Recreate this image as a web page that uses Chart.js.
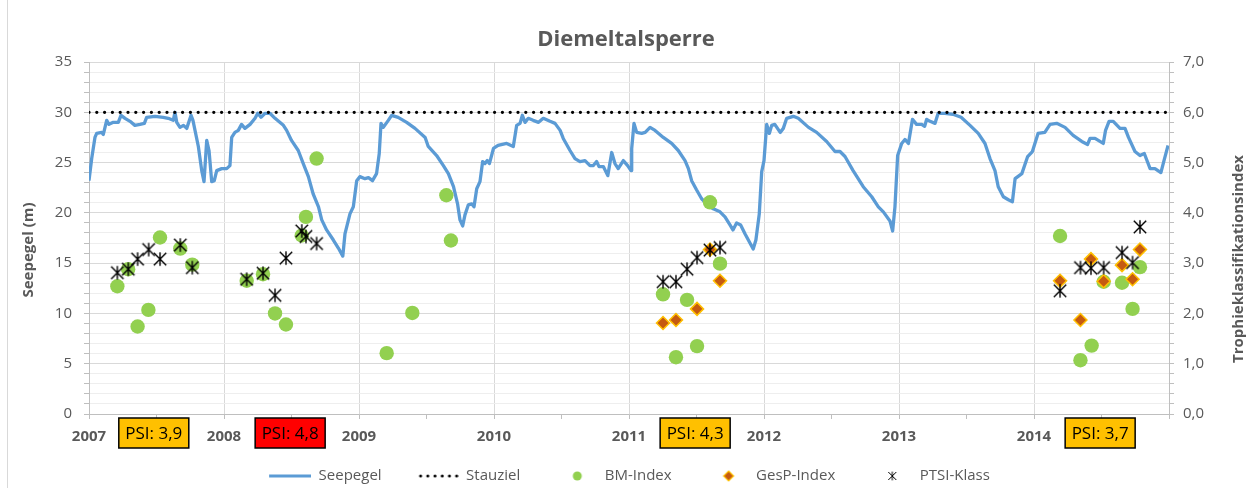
<!DOCTYPE html>
<html><head><meta charset="utf-8">
<script src="https://cdn.jsdelivr.net/npm/chart.js@4.4.1/dist/chart.umd.min.js"></script>
<style>html,body{margin:0;padding:0;background:#fff;}#wrap{position:relative;width:1252px;height:488px;}</style>
</head><body><div id="wrap"><canvas id="c" width="1252" height="488"></canvas></div>
<script>
// ---- data (x values are decimal years) ----
const seepegelDates = [2007.00,2007.02,2007.044,2007.057,2007.094,2007.106,2007.131,2007.148,2007.18,2007.217,2007.237,2007.267,2007.304,2007.34,2007.378,2007.41,2007.427,2007.489,2007.55,2007.587,2007.624,2007.637,2007.65,2007.674,2007.70,2007.724,2007.756,2007.77,2007.81,2007.835,2007.852,2007.872,2007.889,2007.909,2007.928,2007.946,2007.983,2008.02,2008.044,2008.057,2008.081,2008.106,2008.13,2008.155,2008.193,2008.23,2008.25,2008.274,2008.304,2008.34,2008.378,2008.44,2008.464,2008.50,2008.55,2008.59,2008.625,2008.66,2008.70,2008.724,2008.76,2008.81,2008.847,2008.88,2008.896,2008.933,2008.958,2008.983,2009.007,2009.044,2009.07,2009.10,2009.13,2009.15,2009.163,2009.18,2009.217,2009.242,2009.29,2009.353,2009.415,2009.49,2009.513,2009.575,2009.625,2009.662,2009.70,2009.73,2009.748,2009.768,2009.785,2009.81,2009.835,2009.852,2009.872,2009.896,2009.916,2009.933,2009.95,2009.966,2009.996,2010.03,2010.094,2010.143,2010.168,2010.193,2010.21,2010.23,2010.254,2010.29,2010.33,2010.365,2010.415,2010.452,2010.49,2010.513,2010.563,2010.60,2010.637,2010.674,2010.711,2010.736,2010.76,2010.778,2010.81,2010.843,2010.872,2010.896,2010.92,2010.958,2010.99,2011.015,2011.02,2011.037,2011.057,2011.094,2011.12,2011.156,2011.193,2011.254,2011.316,2011.365,2011.415,2011.44,2011.464,2011.50,2011.538,2011.575,2011.624,2011.674,2011.711,2011.748,2011.77,2011.797,2011.827,2011.86,2011.896,2011.92,2011.94,2011.965,2011.983,2012.00,2012.02,2012.04,2012.057,2012.08,2012.12,2012.143,2012.168,2012.217,2012.254,2012.33,2012.39,2012.464,2012.526,2012.563,2012.60,2012.66,2012.735,2012.798,2012.847,2012.884,2012.933,2012.953,2012.97,2012.99,2013.02,2013.044,2013.07,2013.10,2013.13,2013.168,2013.19,2013.205,2013.23,2013.267,2013.29,2013.34,2013.40,2013.46,2013.526,2013.587,2013.637,2013.674,2013.711,2013.735,2013.773,2013.81,2013.84,2013.86,2013.91,2013.953,2013.988,2014.03,2014.08,2014.119,2014.168,2014.23,2014.29,2014.354,2014.397,2014.415,2014.452,2014.513,2014.53,2014.556,2014.587,2014.637,2014.674,2014.70,2014.748,2014.785,2014.817,2014.86,2014.896,2014.94,2014.963,2014.993];
const seepegelValues = [23.2,25.4,27.5,27.9,28.0,27.8,29.2,28.8,29.0,29.0,29.7,29.4,29.1,28.7,28.8,28.9,29.5,29.6,29.5,29.4,29.2,30.0,29.0,28.5,28.7,28.4,29.7,29.2,26.6,24.2,23.1,27.2,26.2,23.1,23.2,24.2,24.4,24.4,24.7,27.5,28.0,28.2,28.8,28.4,28.8,29.4,29.9,29.5,29.9,29.9,29.4,28.7,28.2,27.2,26.2,24.8,23.6,21.9,20.6,19.3,18.3,17.3,16.5,15.7,17.9,19.9,20.6,23.2,23.6,23.4,23.5,23.2,23.9,25.9,28.9,28.5,29.2,29.7,29.5,29.0,28.4,27.5,26.6,25.7,24.7,23.9,22.6,20.9,19.3,18.7,19.8,20.8,20.9,20.6,22.4,23.1,25.1,24.9,25.2,24.9,26.4,26.7,26.9,26.6,28.7,28.9,29.7,29.0,29.4,29.2,29.0,29.4,29.1,28.9,28.2,27.4,26.2,25.4,25.1,25.2,24.7,24.7,25.1,24.6,24.6,23.7,26.0,24.9,24.4,25.2,24.7,24.2,26.4,28.9,28.0,27.9,28.0,28.5,28.2,27.5,26.9,26.2,25.2,24.4,23.2,22.3,21.4,20.9,20.4,20.1,19.6,18.8,18.3,19.0,18.8,17.9,17.0,16.4,17.3,19.9,24.1,25.2,28.8,27.9,28.7,28.8,28.0,28.4,29.4,29.6,29.4,28.5,28.0,27.1,26.1,26.1,25.6,24.2,22.6,21.6,20.6,20.1,19.2,18.2,20.6,25.7,26.9,27.3,26.9,29.3,28.8,28.8,28.6,29.3,29.1,28.9,29.9,29.9,29.8,29.5,28.7,27.9,26.9,25.4,24.2,22.6,21.6,21.3,21.1,23.4,23.9,25.6,26.1,27.9,28.0,28.8,28.9,28.5,27.7,27.1,26.8,27.4,27.4,26.9,28.2,29.1,29.1,28.4,28.4,27.5,26.1,25.7,25.9,24.4,24.4,24.0,25.2,26.7];
const stauzielDates = [2007, 2015];
const stauzielValues = [30, 30];
const bmDates = [2007.21,2007.29,2007.36,2007.44,2007.526,2007.676,2007.765,2008.168,2008.289,2008.378,2008.459,2008.576,2008.607,2008.686,2009.205,2009.395,2009.647,2009.681,2011.252,2011.348,2011.43,2011.504,2011.60,2011.674,2014.193,2014.344,2014.427,2014.516,2014.652,2014.73,2014.785];
const bmValues = [2.54,2.88,1.74,2.07,3.51,3.29,2.97,2.65,2.78,2.00,1.78,3.55,3.92,5.08,1.21,2.01,4.35,3.45,2.38,1.13,2.27,1.35,4.21,2.99,3.54,1.07,1.36,2.63,2.61,2.09,2.92];
const gespDates = [2011.252,2011.348,2011.504,2011.60,2011.674,2014.193,2014.344,2014.422,2014.516,2014.652,2014.73,2014.785];
const gespValues = [1.81,1.87,2.09,3.27,2.65,2.65,1.87,3.08,2.64,2.96,2.68,3.27];
const ptsiDates = [2007.21,2007.291,2007.36,2007.442,2007.526,2007.676,2007.765,2008.168,2008.289,2008.378,2008.459,2008.576,2008.607,2008.686,2011.252,2011.348,2011.43,2011.504,2011.60,2011.674,2014.193,2014.344,2014.422,2014.516,2014.652,2014.73,2014.785];
const ptsiValues = [2.81,2.88,3.08,3.27,3.08,3.36,2.91,2.68,2.80,2.36,3.10,3.64,3.53,3.39,2.63,2.63,2.88,3.11,3.26,3.31,2.45,2.91,2.90,2.91,3.21,3.01,3.72];
const psiDates = [2007.48, 2008.49, 2011.49, 2014.49];
const psiLabels = ['PSI: 3,9', 'PSI: 4,8', 'PSI: 4,3', 'PSI: 3,7'];
const yearMin = 2007, yearMax = 2015;
const leftTitle = 'Seepegel (m)';
const rightTitle = 'Trophieklassifikationsindex';
const chartTitle = 'Diemeltalsperre';

// ---- styles ----
const psiColors = ['#FFC000', '#FF0000', '#FFC000', '#FFC000'];
const TXT = '#595959';
Chart.defaults.font.family = "'Open Sans', 'DejaVu Sans', sans-serif";
Chart.defaults.color = TXT;

function icon(w, h, draw) { const c = document.createElement('canvas'); c.width = w; c.height = h; draw(c.getContext('2d'), w, h); return c; }
function starDraw(g, cx, cy, r, lw) {
  g.strokeStyle = '#000'; g.lineWidth = lw; g.beginPath();
  g.moveTo(cx - r, cy - r); g.lineTo(cx + r, cy + r);
  g.moveTo(cx - r, cy + r); g.lineTo(cx + r, cy - r);
  g.moveTo(cx, cy - r * 1.1); g.lineTo(cx, cy + r * 1.1);
  g.stroke();
}
const starMarker = icon(18, 18, (g) => starDraw(g, 9, 9, 6.2, 1.4));
// legend symbol boxes: LB wide, symbol occupies [LE, LE+44]
const LE = 27, LB = 69, LH = 12;
const legendIcons = [
  icon(LB, LH, (g) => { g.strokeStyle = '#5B9BD5'; g.lineWidth = 3; g.beginPath(); g.moveTo(LE, 6); g.lineTo(LE + 44, 6); g.stroke(); }),
  icon(LB, LH, (g) => { g.fillStyle = '#000'; for (let k = 0; k < 6; k++) { g.beginPath(); g.arc(LE + 4 + k * 7.2, 6, 1.5, 0, Math.PI * 2); g.fill(); } }),
  icon(LB, LH, (g) => { g.fillStyle = '#92D050'; g.beginPath(); g.arc(LE + 22, 6, 4.5, 0, Math.PI * 2); g.fill(); }),
  icon(LB, LH, (g) => { const c = LE + 22; g.fillStyle = '#C55A11'; g.strokeStyle = '#FFC000'; g.lineWidth = 1.2; g.beginPath(); g.moveTo(c, 1); g.lineTo(c + 5, 6); g.lineTo(c, 11); g.lineTo(c - 5, 6); g.closePath(); g.fill(); g.stroke(); }),
  icon(LB, LH, (g) => starDraw(g, LE + 22, 6, 4, 1))
];

const pts = (xs, ys) => xs.map((x, i) => ({ x, y: ys[i] }));

const deco = {
  id: 'deco',
  afterLayout(chart) {
    // compensate the leading empty part of the first legend symbol box
    if (chart.legend) { chart.legend.left -= 10; chart.legend.right -= 10; }
  },
  beforeDraw(chart) {
    const ctx = chart.ctx;
    ctx.save();
    ctx.fillStyle = '#fff'; ctx.fillRect(0, 0, chart.width, chart.height);
    ctx.strokeStyle = '#d9d9d9'; ctx.lineWidth = 1;
    ctx.beginPath(); ctx.moveTo(7.5, 0); ctx.lineTo(7.5, chart.height); ctx.stroke();
    ctx.restore();
  },
  afterDraw(chart) {
    const ctx = chart.ctx, a = chart.chartArea, xs = chart.scales.x;
    const midY = (a.top + a.bottom) / 2;
    ctx.save();
    ctx.fillStyle = TXT; ctx.font = "bold 15px 'Open Sans'"; ctx.textAlign = 'center'; ctx.textBaseline = 'middle';
    ctx.save(); ctx.translate(a.left - 60, midY + 12); ctx.rotate(-Math.PI / 2); ctx.fillText(leftTitle, 0, 0); ctx.restore();
    ctx.save(); ctx.translate(a.right + 70, midY + 21); ctx.rotate(-Math.PI / 2); ctx.fillText(rightTitle, 0, 0); ctx.restore();
    // PSI boxes
    ctx.font = "17px 'Open Sans'";
    psiDates.forEach((d, i) => {
      const cx = xs.getPixelForValue(d), cy = a.bottom + 19, w = 70, h = 30;
      ctx.fillStyle = psiColors[i]; ctx.fillRect(cx - w / 2, cy - h / 2, w, h);
      ctx.strokeStyle = '#000'; ctx.lineWidth = 1.5; ctx.strokeRect(cx - w / 2, cy - h / 2, w, h);
      ctx.fillStyle = '#000'; ctx.fillText(psiLabels[i], cx, cy + 1);
    });
    ctx.restore();
  }
};

new Chart(document.getElementById('c'), {
  type: 'scatter',
  data: {
    datasets: [
      { label: 'Seepegel', data: pts(seepegelDates, seepegelValues), yAxisID: 'y', showLine: true, borderColor: '#5B9BD5', backgroundColor: '#5B9BD5', borderWidth: 3.3, pointRadius: 0, borderJoinStyle: 'round', order: 4 },
      { label: 'Stauziel', data: pts(stauzielDates, stauzielValues), yAxisID: 'y', showLine: true, borderColor: '#000', borderWidth: 3.3, borderDash: [0, 7.8], borderCapStyle: 'round', pointRadius: 0, order: 3 },
      { label: 'BM-Index', data: pts(bmDates, bmValues), yAxisID: 'y2', backgroundColor: '#92D050', borderWidth: 0, pointRadius: 7.2, order: 2 },
      { label: 'GesP-Index', data: pts(gespDates, gespValues), yAxisID: 'y2', pointStyle: 'rectRot', backgroundColor: '#C55A11', borderColor: '#FFC000', borderWidth: 1.5, pointRadius: 6.5, order: 1 },
      { label: 'PTSI-Klass', data: pts(ptsiDates, ptsiValues), yAxisID: 'y2', pointStyle: starMarker, pointRadius: 6, order: 0 }
    ]
  },
  options: {
    responsive: false, animation: false, devicePixelRatio: 1,
    layout: { padding: 0 },
    plugins: {
      tooltip: { enabled: false },
      title: { display: true, text: chartTitle, color: TXT, font: { size: 22, weight: 'bold' }, padding: { top: 27, bottom: 8.6 } },
      legend: {
        position: 'bottom', maxHeight: 27.5,
        labels: {
          usePointStyle: true, pointStyleWidth: LB, padding: 8, color: TXT, font: { size: 15 },
          generateLabels: (chart) => chart.data.datasets.map((ds, i) => ({ text: ds.label, datasetIndex: i, pointStyle: legendIcons[i], fontColor: TXT, lineWidth: 0, strokeStyle: 'rgba(0,0,0,0)', fillStyle: 'rgba(0,0,0,0)', hidden: false }))
        }
      }
    },
    scales: {
      x: {
        type: 'linear', min: yearMin, max: yearMax,
        afterFit: (s) => { const lg = s.chart.legend; s.height = s.chart.height - 414 - (lg ? lg.height : 0); },
        ticks: { stepSize: 0.5, autoSkip: false, maxRotation: 0, padding: 9, color: TXT, font: { size: 15, weight: 'bold' },
          callback: (v) => (Number.isInteger(v) && v < yearMax) ? String(v) : '' },
        grid: { color: (c) => (c.tick && Number.isInteger(c.tick.value)) ? '#d9d9d9' : 'rgba(0,0,0,0)', tickColor: '#bfbfbf', tickLength: 5 },
        border: { color: '#bfbfbf' }
      },
      y: {
        position: 'left', min: 0, max: 35,
        afterFit: (s) => { s.width = 89; },
        ticks: { stepSize: 1, autoSkip: false, padding: 12, color: TXT, font: { size: 15 }, callback: (v) => (v % 5 === 0) ? String(v) : '' },
        grid: { color: (c) => (c.tick && c.tick.value % 5 === 0) ? '#d9d9d9' : '#eeeeee', tickColor: '#bfbfbf', tickLength: 5 },
        border: { color: '#bfbfbf' }
      },
      y2: {
        position: 'right', min: 0, max: 7,
        afterFit: (s) => { s.width = 83; },
        ticks: { stepSize: 0.2, autoSkip: false, padding: 9, color: TXT, font: { size: 15 },
          callback: (v) => Math.abs(v - Math.round(v)) < 1e-6 ? Math.round(v).toFixed(1).replace('.', ',') : '' },
        grid: { drawOnChartArea: false, tickColor: '#bfbfbf', tickLength: 5 },
        border: { color: '#bfbfbf' }
      }
    }
  },
  plugins: [deco]
});
</script>
</body></html>
